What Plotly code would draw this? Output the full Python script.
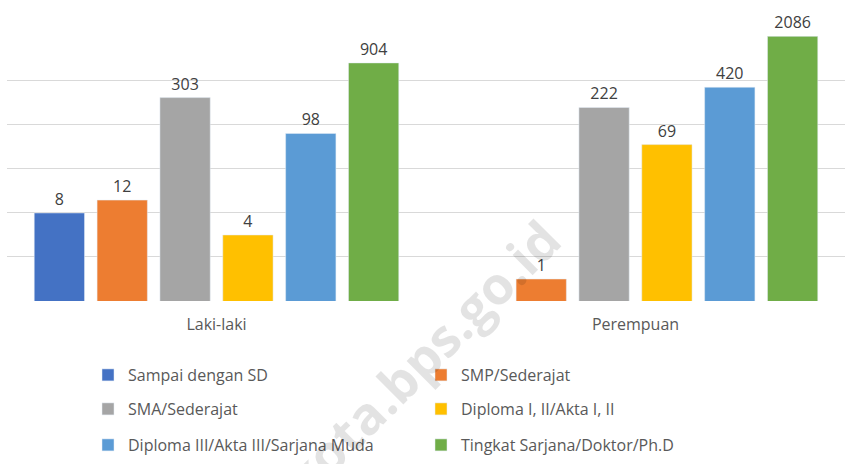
import plotly.graph_objects as go

categories = ["Laki-laki", "Perempuan"]
series_names = [
    "Sampai dengan SD",
    "SMP/Sederajat",
    "SMA/Sederajat",
    "Diploma I, II/Akta I, II",
    "Diploma III/Akta III/Sarjana Muda",
    "Tingkat Sarjana/Doktor/Ph.D",
]
sampai_sd = [8, None]
smp = [12, 1]
sma = [303, 222]
diploma_1_2 = [4, 69]
diploma_3 = [98, 420]
sarjana = [904, 2086]
grid_ticks = [0.5, 2, 8, 32, 128, 512, 2048]

series_values = [sampai_sd, smp, sma, diploma_1_2, diploma_3, sarjana]
colors = ["#4472C4", "#ED7D31", "#A5A5A5", "#FFC000", "#5B9BD5", "#70AD47"]
legend_ids = ["legend", "legend", "legend2", "legend2", "legend3", "legend3"]

FONT = "Open Sans"
fig = go.Figure()
for name, vals, col, lg in zip(series_names, series_values, colors, legend_ids):
    fig.add_trace(go.Bar(
        x=categories, y=vals, name=name, marker_color=col,
        text=[("" if v is None else str(v)) for v in vals],
        textposition="outside", cliponaxis=False,
        textfont=dict(size=16, color="#404040", family=FONT),
        legend=lg,
    ))

W, H = 845, 464
ml, mr, mt, mb = 7, 0, 36, 163
ph = H - mt - mb

def py(p):
    return (H - mb - p) / ph

def px(p):
    return (p - ml) / (W - ml - mr)

leg_common = dict(orientation="h", xanchor="left", yanchor="middle",
                  font=dict(size=16, color="#595959", family=FONT),
                  entrywidth=288, bgcolor="rgba(0,0,0,0)", traceorder="normal",
                  itemwidth=30)
fig.update_layout(
    width=W, height=H,
    margin=dict(l=ml, r=mr, t=mt, b=mb, autoexpand=False),
    paper_bgcolor="white", plot_bgcolor="white",
    barmode="group", bargap=0.1, bargroupgap=0.2,
    font=dict(family=FONT, color="#595959"),
    legend=dict(x=px(88), y=py(375), **leg_common),
    legend2=dict(x=px(88), y=py(409), **leg_common),
    legend3=dict(x=px(88), y=py(445), **leg_common),
    xaxis=dict(showline=False, ticks="", tickfont=dict(size=16, color="#595959"),
               ticklabelstandoff=12),
    yaxis=dict(type="log", range=[-0.30103, 3.3243], tickvals=grid_ticks,
               showticklabels=False, showgrid=True, gridcolor="#D9D9D9",
               gridwidth=1.3, zeroline=False, showline=False),
)
fig.add_annotation(text="kota.bps.go.id", xref="paper", yref="paper",
                   x=px(420), y=py(358), xanchor="center", yanchor="middle",
                   showarrow=False, textangle=-45,
                   font=dict(size=52, color="rgba(0,0,0,0.11)", family=FONT, weight="bold"))
fig.write_html("out.html", config={"displayModeBar": False},
               post_script="document.body.style.margin='0px';document.body.style.overflow='hidden';")
